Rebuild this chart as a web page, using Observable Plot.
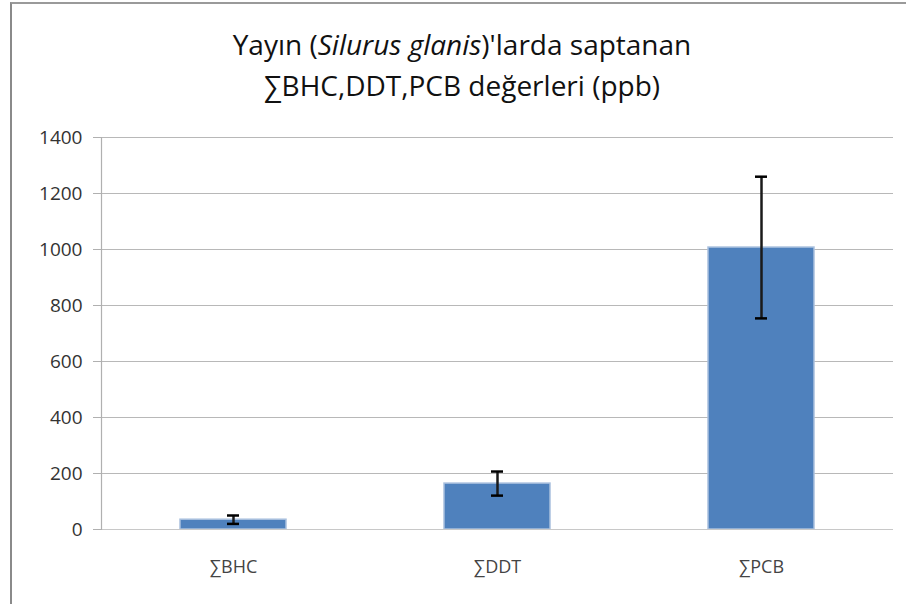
<!DOCTYPE html>
<html>
<head>
<meta charset="utf-8">
<script src="https://cdn.jsdelivr.net/npm/d3@7"></script>
<script src="https://cdn.jsdelivr.net/npm/@observablehq/plot@0.6"></script>
<style>
  html, body { margin: 0; padding: 0; background: #fff; }
  #wrap { position: relative; width: 906px; height: 604px; overflow: hidden; font-family: "Open Sans", sans-serif; }
  #border { position: absolute; left: 10px; top: 2px; width: 900px; height: 610px; border-left: 2px solid #8a8a8a; border-top: 2px solid #9a9a9a; box-sizing: border-box; pointer-events: none; }
  #title { height: 120px; box-sizing: border-box; padding-top: 24px; padding-left: 18px; text-align: center; font-size: 28px; line-height: 41px; color: #111; white-space: nowrap; }
  #chart svg { display: block; }
</style>
</head>
<body>
<div id="wrap">
  <div id="border"></div>
  <div id="title">Yayın (<i>Silurus glanis</i>)'larda saptanan<br>∑BHC,DDT,PCB değerleri (ppb)</div>
  <div id="chart"></div>
</div>
<script>
const categories = ["∑BHC", "∑DDT", "∑PCB"];
const means = [35, 164, 1007];
const errors = [15, 43, 253];
const yTicks = [0, 200, 400, 600, 800, 1000, 1200, 1400];

const data = categories.map((c, i) => ({cat: c, v: means[i], lo: means[i] - errors[i], hi: means[i] + errors[i]}));

const chart = Plot.plot({
  width: 906,
  height: 484,
  marginLeft: 101,
  marginRight: 13,
  marginTop: 17,
  marginBottom: 75,
  style: {fontFamily: "'Open Sans', sans-serif", fontSize: "18px", color: "#333", background: "transparent"},
  x: {domain: categories, paddingInner: 0.6, paddingOuter: 0.3, label: null},
  y: {domain: [0, 1400], ticks: yTicks, label: null},
  marks: [
    Plot.gridY(yTicks, {stroke: "#b8b8b8", strokeOpacity: 1, strokeWidth: 1.2}),
    Plot.barY(data, {x: "cat", y: "v", fill: "#4f81bd", stroke: "#a9c0de", strokeWidth: 1.5}),
    Plot.ruleX(data, {x: "cat", y1: "lo", y2: "hi", stroke: "#1a1a1a", strokeWidth: 2.5}),
    Plot.tickY(data, {x: "cat", y: "hi", stroke: "#000", strokeWidth: 2.5, insetLeft: 47, insetRight: 47}),
    Plot.tickY(data, {x: "cat", y: "lo", stroke: "#000", strokeWidth: 2.5, insetLeft: 47, insetRight: 47}),
    Plot.ruleY([0], {stroke: "#c8c8c8", strokeWidth: 1.2}),
    Plot.frame({anchor: "left", stroke: "#b0b0b0", strokeWidth: 1.2}),
    Plot.axisY(yTicks, {tickSize: 8, tickPadding: 11, stroke: "#b0b0b0", fill: "#333", fontSize: 19, tickFormat: d => String(d)}),
    Plot.axisX({tickSize: 0, tickPadding: 31, fill: "#444", fontSize: 18})
  ]
});
document.getElementById("chart").appendChild(chart);
</script>
</body>
</html>
